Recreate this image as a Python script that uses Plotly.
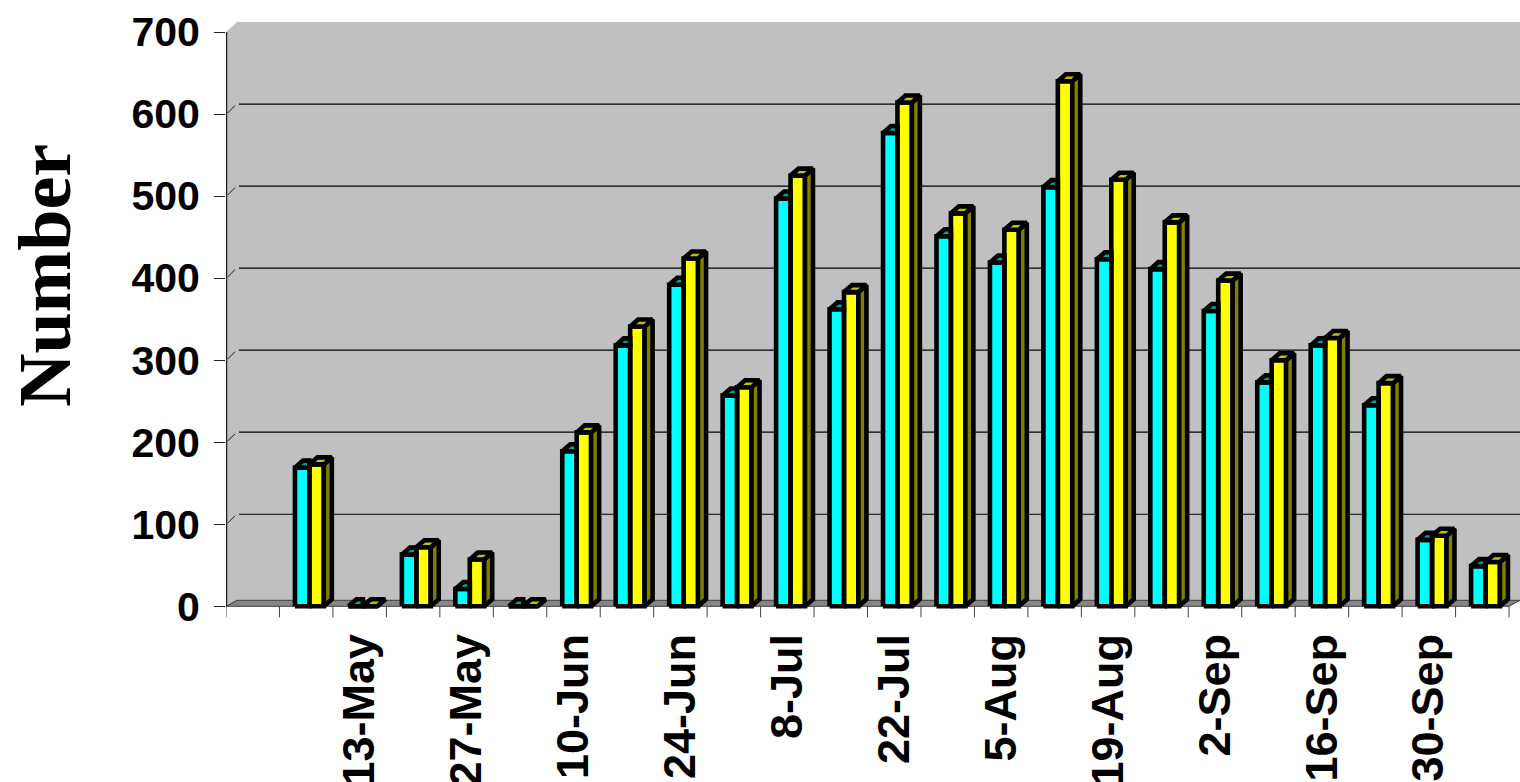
import plotly.graph_objects as go

# Weekly categories (the first slot is an empty lead-in category)
dates = ["", "6-May", "13-May", "20-May", "27-May", "3-Jun", "10-Jun", "17-Jun",
         "24-Jun", "1-Jul", "8-Jul", "15-Jul", "22-Jul", "29-Jul", "5-Aug",
         "12-Aug", "19-Aug", "26-Aug", "2-Sep", "9-Sep", "16-Sep", "23-Sep",
         "30-Sep", "7-Oct"]
series_a = [None, 169, 0, 63, 21, 0, 189, 318, 392, 257, 497, 362, 577, 451,
            419, 511, 423, 411, 360, 273, 318, 245, 81, 49]
series_b = [None, 173, 0, 72, 57, 0, 212, 341, 424, 267, 525, 383, 614, 479,
            459, 640, 520, 468, 397, 300, 327, 272, 86, 54]
y_ticks = [0, 100, 200, 300, 400, 500, 600, 700]
label_dates = dates[2::2]

# ---- page geometry ----
W, H = 1520, 782
M_L, M_T, M_B = 226, 22, 160
PLOT_W = W - M_L
PLOT_H = H - M_T - M_B
SLOT_PX = 53.46            # pixels per category slot
Y_PX = 0.8204              # pixels per unit on the value axis
ZERO_PX = 606.3            # page row of the value 0
X_MAX = PLOT_W / SLOT_PX
Y_MIN = -(M_T + PLOT_H - ZERO_PX) / Y_PX
Y_MAX = (ZERO_PX - M_T) / Y_PX


def dx(px):
    return px / SLOT_PX


def dy(px):
    return px / Y_PX


# depth of walls / floor / bars (oblique projection)
WALL_DX, WALL_DY = dx(11), dy(10)
FLOOR_DX, FLOOR_DY = dx(11), dy(6)
BAR_DX, BAR_DY = dx(8), dy(7)

BAR_W = 0.27
OFF_A = 0.29
OFF_B = OFF_A + BAR_W

CYAN, CYAN_TOP = "#00FFFF", "#00A3A3"
YEL, YEL_TOP, YEL_SIDE = "#FFFF00", "#C0C000", "#808000"
EDGE = 4.6
N = len(dates)
idx = list(range(N))

fig = go.Figure()

# front faces
fig.add_trace(go.Bar(x=idx, y=series_a, width=BAR_W, offset=OFF_A,
                     marker=dict(color=CYAN, line=dict(width=0)),
                     hoverinfo="skip", showlegend=False))
fig.add_trace(go.Bar(x=idx, y=series_b, width=BAR_W, offset=OFF_B,
                     marker=dict(color=YEL, line=dict(width=0)),
                     hoverinfo="skip", showlegend=False))


def polys(make):
    xs, ys = [], []
    for i in idx:
        pts = make(i)
        if not pts:
            continue
        for px, py in pts + [pts[0]]:
            xs.append(px)
            ys.append(py)
        xs.append(None)
        ys.append(None)
    return xs, ys


def front(values, off):
    def make(i):
        v = values[i]
        if v is None:
            return None
        x0 = i + off
        x1 = x0 + BAR_W
        return [(x0, 0), (x0, v), (x1, v), (x1, 0)]
    return make


def top_a(i):
    a, b = series_a[i], series_b[i]
    if a is None:
        return None
    x0 = i + OFF_A
    x1 = x0 + BAR_W
    if b is not None and b >= a:
        # right part hidden behind the neighbouring front face
        return [(x0, a), (x1, a), (x1, a + BAR_DY), (x0 + BAR_DX, a + BAR_DY)]
    return [(x0, a), (x1, a), (x1 + BAR_DX, a + BAR_DY), (x0 + BAR_DX, a + BAR_DY)]


def side_b(i):
    b = series_b[i]
    if b is None:
        return None
    x1 = i + OFF_B + BAR_W
    return [(x1, 0), (x1, b), (x1 + BAR_DX, b + BAR_DY), (x1 + BAR_DX, BAR_DY)]


def top_b(i):
    b = series_b[i]
    if b is None:
        return None
    x0 = i + OFF_B
    x1 = x0 + BAR_W
    return [(x0, b), (x1, b), (x1 + BAR_DX, b + BAR_DY), (x0 + BAR_DX, b + BAR_DY)]


layers = [
    (front(series_a, OFF_A), None),
    (top_a, CYAN_TOP),
    (front(series_b, OFF_B), None),
    (side_b, YEL_SIDE),
    (top_b, YEL_TOP),
]
for maker, col in layers:
    xs, ys = polys(maker)
    fig.add_trace(go.Scatter(
        x=xs, y=ys, mode="lines",
        fill="toself" if col else "none",
        fillcolor=col if col else None,
        line=dict(color="black", width=EDGE),
        hoverinfo="skip", showlegend=False, cliponaxis=False))

shapes = []
last = N  # right edge of the category axis

# back + side wall
wall = (f"M 0,0 L 0,{y_ticks[-1]} L {WALL_DX},{y_ticks[-1] + WALL_DY} "
        f"L {X_MAX},{y_ticks[-1] + WALL_DY} L {X_MAX},{FLOOR_DY} "
        f"L {last + FLOOR_DX},{FLOOR_DY} L {last},0 Z")
shapes.append(dict(type="path", path=wall, xref="x", yref="y",
                   fillcolor="#C0C0C0", line=dict(width=0), layer="below"))

# floor
floor = (f"M 0,0 L {last},0 L {last + FLOOR_DX},{FLOOR_DY} "
         f"L {FLOOR_DX},{FLOOR_DY} Z")
shapes.append(dict(type="path", path=floor, xref="x", yref="y",
                   fillcolor="#858585", line=dict(color="#404040", width=1),
                   layer="below"))

# gridlines on the back wall, with their short diagonal on the side wall
for v in y_ticks[1:-1]:
    shapes.append(dict(type="line", xref="x", yref="y",
                       x0=dx(1.5), y0=v + dy(1), x1=dx(9), y1=v + dy(8.5),
                       line=dict(color="#202020", width=1), layer="below"))
    shapes.append(dict(type="line", xref="x", yref="y",
                       x0=dx(13), y0=v + WALL_DY, x1=X_MAX, y1=v + WALL_DY,
                       line=dict(color="black", width=1.2), layer="below"))

# category tick marks at the slot boundaries
for k in range(N + 1):
    shapes.append(dict(type="line", xref="x", yref="y",
                       x0=k, y0=0, x1=k, y1=-dy(11),
                       line=dict(color="#404040", width=1), layer="below"))

# value axis line
shapes.append(dict(type="line", xref="x", yref="y",
                   x0=dx(0.6), y0=0, x1=dx(0.6), y1=y_ticks[-1],
                   line=dict(color="#202020", width=1.3), layer="above"))

sans = "Liberation Sans, Arial, sans-serif"

fig.update_layout(
    width=W, height=H,
    margin=dict(l=M_L, r=0, t=M_T, b=M_B, pad=0, autoexpand=False),
    paper_bgcolor="white",
    plot_bgcolor="white",
    barmode="overlay",
    showlegend=False,
    shapes=shapes,
    xaxis=dict(
        range=[0, X_MAX], showgrid=False, zeroline=False, showline=False,
        automargin=False,
        tickmode="array",
        tickvals=[dates.index(d) + 0.5 for d in label_dates],
        ticktext=label_dates, tickangle=-90, ticks="",
        ticklabelstandoff=2,
        tickfont=dict(family=sans, size=45, color="black", weight="bold"),
    ),
    yaxis=dict(
        range=[Y_MIN, Y_MAX], showgrid=False, zeroline=False, showline=False,
        automargin=False,
        tickmode="array", tickvals=y_ticks,
        ticks="outside", ticklen=11, tickwidth=1, tickcolor="#202020",
        ticklabelstandoff=6,
        tickfont=dict(family=sans, size=41, color="black", weight="bold"),
    ),
    annotations=[dict(
        text="Number", xref="paper", yref="paper",
        x=(45 - M_L) / PLOT_W, y=(M_T + PLOT_H - 276) / PLOT_H,
        xanchor="center", yanchor="middle", textangle=-90, showarrow=False,
        font=dict(family="Liberation Serif, Times New Roman, serif", size=74,
                  color="black", weight="bold"),
    )],
)

fig.write_html("out.html")
